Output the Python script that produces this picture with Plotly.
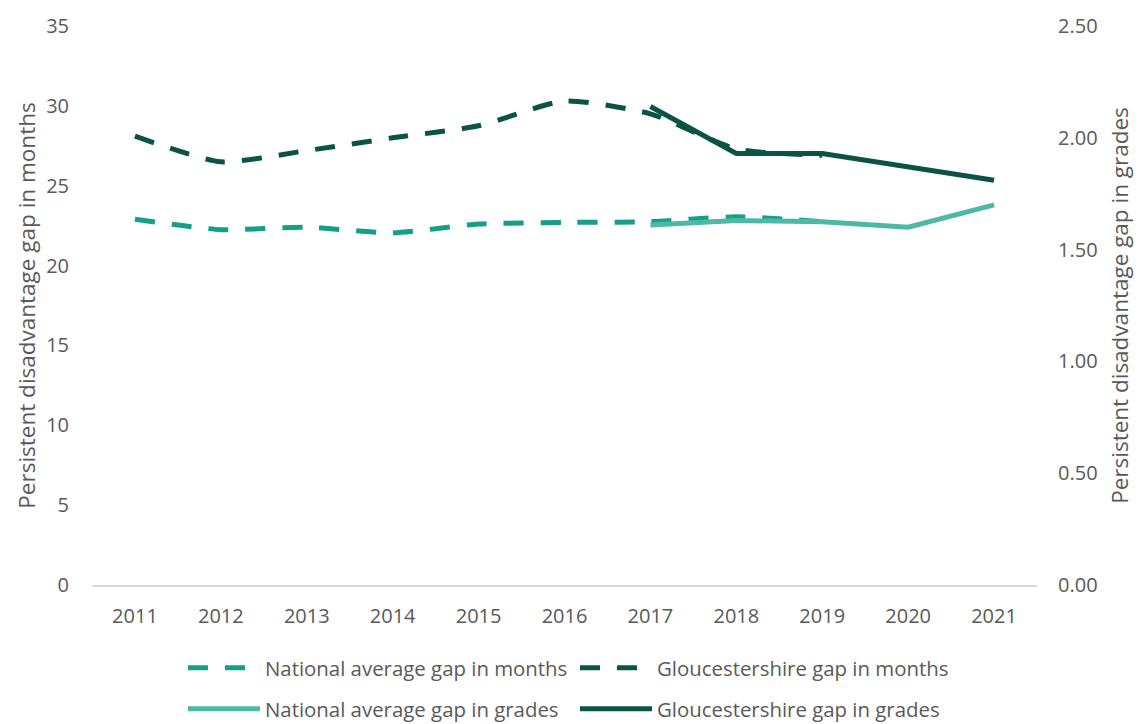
import plotly.graph_objects as go

years = ["2011", "2012", "2013", "2014", "2015", "2016", "2017", "2018", "2019", "2020", "2021"]

nat_months_years = years[:9]
nat_months = [22.9, 22.25, 22.4, 22.05, 22.6, 22.7, 22.75, 23.05, 22.75]

glos_months_years = years[:9]
glos_months = [28.1, 26.5, 27.2, 28.0, 28.75, 30.3, 29.5, 27.3, 26.9]

grade_years = years[6:]
nat_grades = [1.61, 1.63, 1.625, 1.60, 1.70]
glos_grades = [2.14, 1.93, 1.93, 1.87, 1.81]

C_NAT_M = "#14a088"
C_GLOS = "#0b5345"
C_NAT_G = "#4db8a6"
TXT = "#595959"
FONT = "Open Sans"

fig = go.Figure()
fig.add_trace(go.Scatter(x=nat_months_years, y=nat_months, name="National average gap in months",
                         mode="lines", line=dict(color=C_NAT_M, width=5, dash="20px,17px", shape="spline", smoothing=0.6),
                         legend="legend"))
fig.add_trace(go.Scatter(x=glos_months_years, y=glos_months, name="Gloucestershire gap in months",
                         mode="lines", line=dict(color=C_GLOS, width=5, dash="20px,17px", shape="spline", smoothing=0.6),
                         legend="legend"))
fig.add_trace(go.Scatter(x=grade_years, y=nat_grades, name="National average gap in grades",
                         mode="lines", line=dict(color=C_NAT_G, width=5), yaxis="y2", legend="legend2"))
fig.add_trace(go.Scatter(x=grade_years, y=glos_grades, name="Gloucestershire gap in grades",
                         mode="lines", line=dict(color=C_GLOS, width=5), yaxis="y2", legend="legend2"))

legend_common = dict(orientation="h", xanchor="left", yanchor="middle", xref="container", yref="container",
                     x=0.1605, font=dict(family=FONT, size=20.4, color=TXT), bgcolor="rgba(0,0,0,0)",
                     entrywidth=305, entrywidthmode="pixels", itemwidth=72, tracegroupgap=0)

fig.update_layout(
    width=1140, height=724,
    margin=dict(l=92, r=100, t=25, b=139),
    paper_bgcolor="white", plot_bgcolor="white",
    font=dict(family=FONT, size=20, color=TXT),
    xaxis=dict(type="category", categoryorder="array", categoryarray=years, range=[-0.5, 10.5],
               showgrid=False, showline=True, linecolor="#d9d9d9", linewidth=1.5,
               ticks="", tickfont=dict(size=20, color=TXT), ticklabelstandoff=12,
               zeroline=False),
    yaxis=dict(range=[0, 35], dtick=5, tick0=0, showgrid=False, zeroline=False, showline=False,
               ticks="", tickfont=dict(size=20, color=TXT), ticklabelstandoff=22,
               title=dict(text="Persistent disadvantage gap in months", font=dict(size=22.5, color=TXT), standoff=4)),
    yaxis2=dict(range=[0, 2.5], dtick=0.5, tick0=0, tickformat=".2f", overlaying="y", side="right",
                showgrid=False, zeroline=False, showline=False, ticks="",
                tickfont=dict(size=20, color=TXT), ticklabelstandoff=20,
                title=dict(text="Persistent disadvantage gap in grades", font=dict(size=22.5, color=TXT), standoff=15)),
    legend=dict(y=1 - 668 / 724, **legend_common),
    legend2=dict(y=1 - 709 / 724, **legend_common),
    showlegend=True,
)

fig.write_html("out.html", post_script="document.body.style.margin='0';",
               config={"displayModeBar": False})
